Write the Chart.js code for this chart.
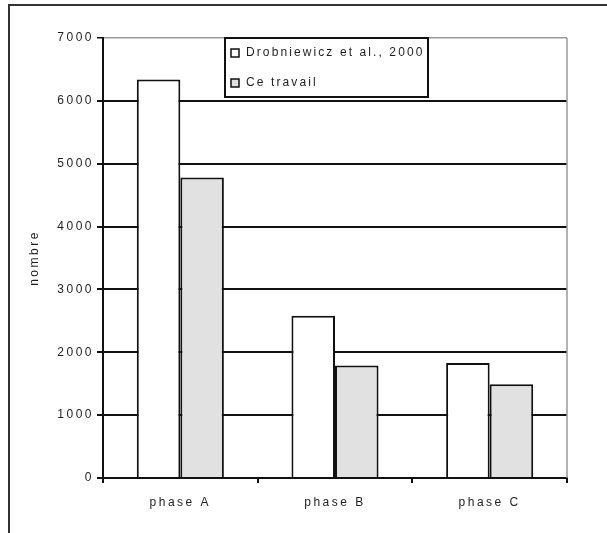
<!DOCTYPE html>
<html>
<head>
<meta charset="utf-8">
<script src="https://cdn.jsdelivr.net/npm/chart.js@4/dist/chart.umd.min.js"></script>
<style>
	html, body { margin: 0; padding: 0; background: #fff; }
	canvas { display: block; }
</style>
</head>
<body>
<canvas id="chart" width="607" height="533"></canvas>
<script>
var phases = ['phase A', 'phase B', 'phase C'];
var drobniewicz = [6340, 2580, 1830];
var ceTravail = [4780, 1790, 1490];
var seriesNames = ['Drobniewicz et al., 2000', 'Ce travail'];
var seriesColors = ['#ffffff', '#e1e1e1'];
var yMax = 7000;
var yStep = 1000;

var textFont = { family: "'Liberation Sans', Arial, sans-serif", size: 12 };
var textColor = '#1e1e1e';

// canvas state is reset on resize, so set spacing right before drawing
var spacing = {
	id: 'spacing',
	beforeDraw: function(chart) {
		chart.ctx.letterSpacing = '2.5px';
		var ctx = chart.ctx;
		ctx.save();
		ctx.strokeStyle = '#333';
		ctx.lineWidth = 2;
		ctx.beginPath();
		ctx.moveTo(9, chart.height);
		ctx.lineTo(9, 5);
		ctx.lineTo(chart.width, 5);
		ctx.stroke();
		ctx.restore();
	},
	beforeDatasetsDraw: function(chart) {
		var ctx = chart.ctx, a = chart.chartArea;
		ctx.save();
		ctx.strokeStyle = '#999';
		ctx.lineWidth = 1.5;
		ctx.beginPath();
		ctx.moveTo(a.right, a.top);
		ctx.lineTo(a.right, a.bottom);
		ctx.stroke();
		ctx.restore();
	}
};

// legend box sits inside the plot, near the top
var boxLegend = {
	id: 'boxLegend',
	afterDraw: function(chart) {
		var ctx = chart.ctx, a = chart.chartArea;
		var x = a.left + 122, y = a.top, w = 203, h = 59;
		ctx.save();
		ctx.fillStyle = '#fff';
		ctx.fillRect(x, y, w, h);
		ctx.strokeStyle = '#111';
		ctx.lineWidth = 2;
		ctx.strokeRect(x, y, w, h);
		ctx.font = '12px ' + textFont.family;
		ctx.textBaseline = 'middle';
		ctx.letterSpacing = '2.1px';
		chart.data.datasets.forEach(function(ds, i) {
			var cy = y + 15 + i * 30;
			ctx.fillStyle = ds.backgroundColor;
			ctx.fillRect(x + 6, cy - 4, 8, 8);
			ctx.lineWidth = 1.5;
			ctx.strokeStyle = '#111';
			ctx.strokeRect(x + 6, cy - 4, 8, 8);
			ctx.fillStyle = textColor;
			ctx.fillText(ds.label, x + 21, cy);
		});
		ctx.restore();
	}
};

var ctx = document.getElementById('chart').getContext('2d');
var chart = new Chart(ctx, {
	type: 'bar',
	data: {
		labels: phases,
		datasets: [{
			label: seriesNames[0],
			data: drobniewicz,
			backgroundColor: seriesColors[0],
			borderColor: '#111',
			borderWidth: 2
		}, {
			label: seriesNames[1],
			data: ceTravail,
			backgroundColor: seriesColors[1],
			borderColor: '#111',
			borderWidth: 2
		}]
	},
	options: {
		responsive: false,
		animation: false,
		layout: { padding: { left: 0, top: 38, right: 40, bottom: 0 } },
		plugins: {
			legend: { display: false },
			tooltip: { enabled: false }
		},
		datasets: {
			bar: { barPercentage: 1, categoryPercentage: 0.563 }
		},
		scales: {
			x: {
				z: 1,
				grid: {
					offset: true,
					drawOnChartArea: false,
					color: '#111',
					lineWidth: 2,
					tickLength: 5
				},
				border: { color: '#111', width: 2 },
				ticks: { font: textFont, color: textColor, padding: 12 },
				afterFit: function(scale) { scale.height = 55; }
			},
			y: {
				min: 0,
				max: yMax,
				ticks: {
					stepSize: yStep,
					font: textFont,
					color: textColor,
					padding: 3,
					callback: function(v) { return String(v); }
				},
				grid: {
					color: function(c) { return c.tick && c.tick.value === yMax ? '#999' : '#111'; },
					lineWidth: function(c) { return c.tick && c.tick.value === yMax ? 1.5 : 2; },
					tickColor: '#111',
					tickLength: 6
				},
				border: { color: '#111', width: 2 },
				title: {
					display: true,
					text: 'nombre',
					font: textFont,
					color: textColor,
					padding: { top: 27, bottom: 0 }
				},
				afterFit: function(scale) { scale.width = 103; }
			}
		}
	},
	plugins: [spacing, boxLegend]
});
</script>
</body>
</html>
